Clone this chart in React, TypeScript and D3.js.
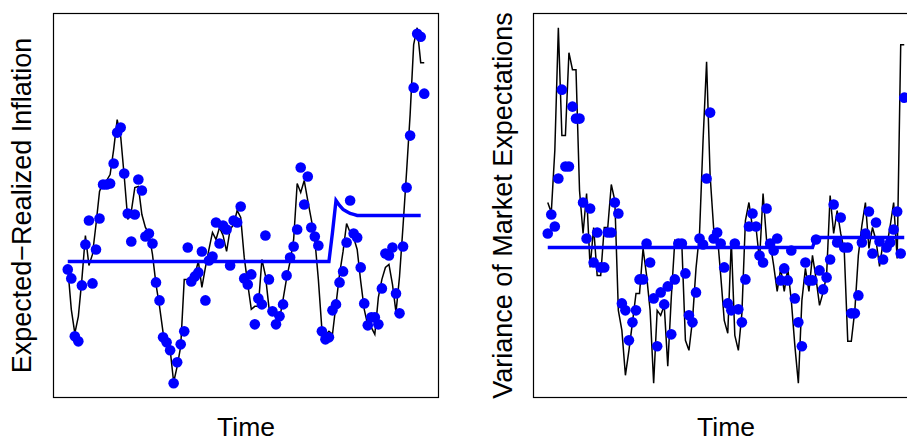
import React from "react";
import * as d3 from "d3";

// Time index (monthly observations)
const timeIndex: number[] = d3.range(1, 103);

// Left panel: Expected − Realized Inflation
const inflationObserved: number[] = [
  -0.08, -0.17, -0.75, -0.8, -0.24, 0.17, 0.41, -0.22, 0.12, 0.43,
  0.77, 0.77, 0.78, 0.98, 1.29, 1.34, 0.88, 0.48, 0.2, 0.47,
  0.82, 0.71, 0.25, 0.28, 0.18, -0.21, -0.39, -0.76, -0.81, -0.89,
  -1.22, -1.01, -0.83, -0.7, 0.14, -0.2, -0.15, -0.11, 0.1, -0.39,
  0.01, 0.05, 0.39, 0.18, 0.36, 0.32, -0.04, 0.41, 0.39, 0.55,
  -0.17, -0.23, -0.13, -0.63, -0.37, -0.43, 0.26, -0.18, -0.5, -0.63,
  -0.55, -0.43, -0.14, 0.04, 0.15, 0.32, 0.94, 0.57, 0.85, 0.34,
  0.25, 0.16, -0.7, -0.78, -0.76, -0.49, -0.43, -0.21, -0.1, 0.19,
  0.61, 0.28, 0.24, -0.06, -0.42, -0.64, -0.56, -0.56, -0.63, -0.27,
  0.08, 0.06, 0.14, -0.32, -0.52, 0.15, 0.74, 1.26, 1.74, 2.28,
  2.25, 1.68,
];
const inflationLine: number[] = [
  -0.06, -0.48, -0.72, -0.55, -0.18, 0.26, -0.04, 0.07, 0.37, 0.7,
  0.79, 0.81, 0.87, 1.12, 1.42, 1.25, 0.85, 0.42, 0.5, 0.74,
  0.75, 0.47, 0.34, 0.28, 0.07, -0.23, -0.45, -0.71, -0.83, -0.88,
  -1.21, -1.05, -0.85, -0.18, -0.18, -0.16, -0.13, 0.0, -0.26, -0.06,
  0.12, 0.29, 0.22, 0.34, 0.26, 0.1, 0.32, 0.37, 0.51, 0.44,
  0.04, -0.23, -0.48, -0.45, -0.45, 0.02, -0.14, -0.46, -0.51, -0.56,
  -0.58, -0.38, -0.17, 0.0, 0.22, 0.78, 0.69, 0.81, 0.61, 0.42,
  0.22, -0.18, -0.68, -0.74, -0.7, -0.73, -0.43, -0.13, 0.1, 0.38,
  0.29, 0.24, 0.12, -0.2, -0.48, -0.64, -0.66, -0.73, -0.36, -0.18,
  -0.06, -0.03, -0.23, -0.51, -0.15, 0.36, 0.9, 1.47, 2.17, 2.34,
  1.99, 1.99,
];
const inflationModel: number[] = [
  0, 0, 0, 0, 0, 0, 0, 0, 0, 0,
  0, 0, 0, 0, 0, 0, 0, 0, 0, 0,
  0, 0, 0, 0, 0, 0, 0, 0, 0, 0,
  0, 0, 0, 0, 0, 0, 0, 0, 0, 0,
  0, 0, 0, 0, 0, 0, 0, 0, 0, 0,
  0, 0, 0, 0, 0, 0, 0, 0, 0, 0,
  0, 0, 0, 0, 0, 0, 0, 0, 0, 0,
  0, 0, 0, 0, 0, 0.29, 0.61, 0.56, 0.52,
  0.5, 0.48, 0.47, 0.46, 0.46, 0.46, 0.46, 0.46, 0.46, 0.46,
  0.46, 0.46, 0.46, 0.46, 0.46, 0.46, 0.46, 0.46, 0.46, 0.46,
  0.46, 0.46,
];

// Right panel: Variance of Market Expectations
const varianceObserved: number[] = [
  1.67, 1.86, 1.74, 2.22, 3.11, 2.34, 2.34, 2.94, 2.82, 2.82,
  1.98, 1.62, 1.92, 1.38, 1.68, 1.33, 1.33, 1.68, 1.68, 1.98,
  1.87, 0.97, 0.9, 0.6, 0.78, 0.9, 1.21, 1.21, 1.57, 1.38,
  1.02, 0.54, 1.08, 0.96, 1.14, 0.66, 1.21, 1.57, 1.57, 1.27,
  0.85, 0.78, 1.08, 1.62, 1.56, 2.22, 2.88, 1.62, 1.68, 1.57,
  1.33, 0.97, 0.9, 1.57, 0.91, 0.78, 1.21, 1.74, 1.87, 1.74,
  1.45, 1.38, 1.92, 1.57, 1.5, 1.62, 1.2, 1.32, 1.2, 1.5,
  1.02, 0.78, 0.54, 1.38, 1.2, 1.2, 1.61, 1.3, 1.11, 1.23,
  1.41, 1.96, 1.58, 1.83, 1.53, 1.53, 0.87, 0.87, 1.05, 1.58,
  1.67, 1.89, 1.47, 1.78, 1.59, 1.41, 1.53, 1.58, 1.71, 1.89,
  1.47, 3.03,
];
const varianceLine: number[] = [
  1.98, 1.88, 2.5, 3.73, 2.65, 2.65, 3.48, 3.31, 3.31, 2.1,
  1.67, 2.07, 1.33, 1.73, 1.25, 1.25, 1.73, 1.73, 2.16, 2.0,
  0.9, 0.7, 0.25, 0.5, 0.78, 1.07, 1.07, 1.52, 1.25, 0.9,
  0.17, 0.9, 0.85, 0.95, 0.34, 1.03, 1.6, 1.57, 1.55, 0.6,
  0.5, 0.8, 1.32, 1.67, 2.6, 3.39, 2.25, 1.72, 1.68, 1.25,
  0.8, 0.67, 1.6, 0.65, 0.5, 0.87, 1.8, 1.98, 1.73, 1.73,
  1.4, 2.07, 1.6, 1.58, 1.35, 1.09, 1.32, 1.09, 1.32, 1.0,
  0.55, 0.17, 1.0, 1.32, 1.09, 1.45, 1.22, 0.95, 1.08, 1.25,
  2.05, 1.67, 1.9, 1.67, 1.5, 0.59, 0.59, 0.9, 1.45, 1.75,
  1.98, 1.52, 1.73, 1.6, 1.34, 1.58, 1.53, 1.74, 1.98, 1.42,
  3.56, 3.56,
];
const varianceModel: number[] = [
  1.53, 1.53, 1.53, 1.53, 1.53, 1.53, 1.53, 1.53, 1.53, 1.53,
  1.53, 1.53, 1.53, 1.53, 1.53, 1.53, 1.53, 1.53, 1.53, 1.53,
  1.53, 1.53, 1.53, 1.53, 1.53, 1.53, 1.53, 1.53, 1.53, 1.53,
  1.53, 1.53, 1.53, 1.53, 1.53, 1.53, 1.53, 1.53, 1.53, 1.53,
  1.53, 1.53, 1.53, 1.53, 1.53, 1.53, 1.53, 1.53, 1.53, 1.53,
  1.53, 1.53, 1.53, 1.53, 1.53, 1.53, 1.53, 1.53, 1.53, 1.53,
  1.53, 1.53, 1.53, 1.53, 1.53, 1.53, 1.53, 1.53, 1.53, 1.53,
  1.53, 1.53, 1.53, 1.53, 1.53, 1.53, 1.63, 1.63, 1.63, 1.63,
  1.63, 1.63, 1.63, 1.63, 1.63, 1.63, 1.63, 1.63, 1.63, 1.63,
  1.63, 1.63, 1.63, 1.63, 1.63, 1.63, 1.63, 1.63, 1.63, 1.63,
  1.63, 1.63,
];

const yLabels: string[] = ["Expected\u2212Realized Inflation", "Variance of Market Expectations"];
const xLabel = "Time";

const FONT = "'Liberation Sans', Arial, Helvetica, sans-serif";

type PanelProps = {
  left: number;
  dots: number[];
  line: number[];
  model: number[];
  ylab: string;
  labelX: number;
};

const PW = 385;
const PH = 384;
const TOP = 13.5;

function Panel({ left, dots, line, model, ylab, labelX }: PanelProps) {
  const n = timeIndex.length;
  const xr = (timeIndex[n - 1] - timeIndex[0]) * 0.04;
  const x = d3
    .scaleLinear()
    .domain([timeIndex[0] - xr, timeIndex[n - 1] + xr])
    .range([left, left + PW]);
  const ext = d3.extent([...dots, ...line, ...model]) as [number, number];
  const yr = (ext[1] - ext[0]) * 0.04;
  const y = d3
    .scaleLinear()
    .domain([ext[0] - yr, ext[1] + yr])
    .range([TOP + PH, TOP]);
  const lineGen = d3
    .line<number>()
    .x((_, i) => x(timeIndex[i]))
    .y((d) => y(d));
  return (
    <g>
      <path d={lineGen(line) || ""} fill="none" stroke="#000" strokeWidth={1.5} strokeLinejoin="miter" />
      <path d={lineGen(model) || ""} fill="none" stroke="#0000FF" strokeWidth={3.4} />
      {dots.map((d, i) => (
        <circle key={i} cx={x(timeIndex[i])} cy={y(d)} r={5.3} fill="#0000FF" />
      ))}
      <rect x={left} y={TOP} width={PW} height={PH} fill="none" stroke="#000" strokeWidth={1.2} />
      <text
        x={left + PW / 2}
        y={436}
        textAnchor="middle"
        fontFamily={FONT}
        fontSize={26.5}
        fill="#000"
      >
        {xLabel}
      </text>
      <text
        transform={`translate(${labelX},${TOP + PH / 2}) rotate(-90)`}
        textAnchor="middle"
        fontFamily={FONT}
        fontSize={27}
        fill="#000"
      >
        {ylab}
      </text>
    </g>
  );
}

export default function App() {
  return (
    <svg
      width={907}
      height={440}
      style={{ position: "absolute", left: 0, top: 0, background: "#fff" }}
    >
      <rect x={0} y={0} width={907} height={440} fill="#fff" />
      <Panel left={53.5} dots={inflationObserved} line={inflationLine} model={inflationModel} ylab={yLabels[0]} labelX={31} />
      <Panel left={533.5} dots={varianceObserved} line={varianceLine} model={varianceModel} ylab={yLabels[1]} labelX={512} />
    </svg>
  );
}
